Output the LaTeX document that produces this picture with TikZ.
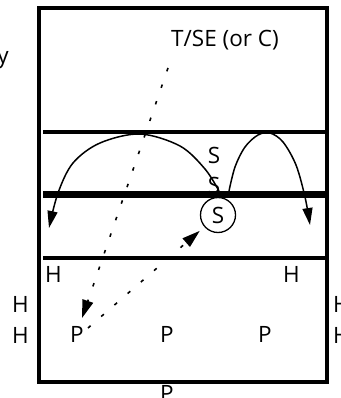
\documentclass[tikz,border=0pt]{standalone}
\usepackage{fontspec}
\setmainfont{Open Sans}
\usetikzlibrary{arrows.meta,shapes.geometric}
\begin{document}
\begin{tikzpicture}[x=1pt,y=-1pt,
  lbl/.style={inner sep=0pt, font=\fontsize{22.5}{22.5}\selectfont},
  arcline/.style={line width=1.5pt, -{Triangle[length=17pt,width=10pt]}},
  dotline/.style={line width=1.6pt, dash pattern=on 3.5pt off 14pt, -{Triangle[length=18pt,width=11pt]}},
  field/.style={line width=4pt},
]
\useasboundingbox (0,0) rectangle (340,398);
% texts
\node[lbl, anchor=base east] (ky) at (9,64) {y};
\node[lbl, anchor=base] (tse) at (225,47) {T/SE (or C)};
\node[lbl, anchor=base] (s1) at (214,163) {S};
\node[lbl, anchor=base] (s2) at (214,193) {S};
\node[lbl, draw, circle, minimum size=35pt, line width=1.3pt] (sc) at (218,215) {S};
\node[lbl, anchor=base west] (hil) at (45,282) {H};
\node[lbl, anchor=base west] (hir) at (283,282) {H};
\node[lbl, anchor=base west] (hol1) at (12,312) {H};
\node[lbl, anchor=base west] (hol2) at (12,343) {H};
\node[lbl, anchor=base west] (hor1) at (333,312) {H};
\node[lbl, anchor=base west] (hor2) at (333,343) {H};
\node[lbl, anchor=base] (p1) at (77,342) {P};
\node[lbl, anchor=base] (p2) at (167,342) {P};
\node[lbl, anchor=base] (p3) at (265,342) {P};
\node[lbl, anchor=base] (p4) at (167,401) {P};
% field lines
\draw[field] (39,8.5) rectangle (326.5,381.5);
\draw[field] (43,132) -- (326.5,132);
\draw[line width=7pt] (43,194) -- (326.5,194);
\draw[field] (43,257.5) -- (326.5,257.5);
% arcs
\draw[arcline] plot[smooth, tension=0.55] coordinates {(219,191) (205,169) (180,146) (140,134) (100,143) (73,163) (58,193) (49,228)};
\draw[arcline] plot[smooth, tension=0.55] coordinates {(229,191) (235,167) (245,147) (258,135) (270,133) (283,142) (296,165) (305,197) (310,225)};
% dotted runs
\coordinate (d1s) at (168,68);
\coordinate (d1e) at (82,318);
\draw[dotline] (d1s) -- (d1e);
\coordinate (d2s) at (88,328);
\draw[dotline, shorten >=6pt] (d2s) -- (sc);
\end{tikzpicture}
\end{document}
